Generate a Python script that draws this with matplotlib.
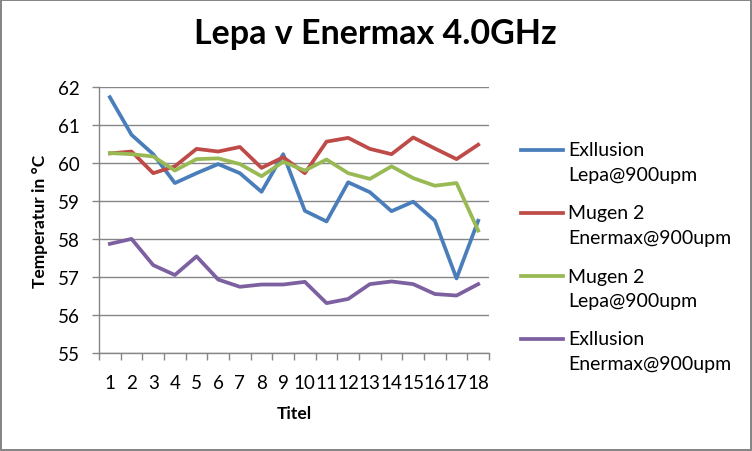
import matplotlib
matplotlib.use("Agg")
import matplotlib.pyplot as plt
from matplotlib.lines import Line2D
import numpy as np

plt.rcParams['font.family'] = ['Lato', 'DejaVu Sans']

# Werte
titel = list(range(1, 19))
exllusion_lepa = [61.74, 60.75, 60.24, 59.48, 59.74, 59.98, 59.74, 59.25, 60.24,
                  58.75, 58.47, 59.50, 59.24, 58.74, 58.99, 58.49, 56.97, 58.49]
mugen_enermax = [60.26, 60.31, 59.74, 59.92, 60.38, 60.31, 60.43, 59.88, 60.16,
                 59.74, 60.57, 60.67, 60.38, 60.24, 60.68, 60.39, 60.11, 60.49]
mugen_lepa = [60.27, 60.24, 60.18, 59.81, 60.11, 60.13, 59.98, 59.66, 60.04,
              59.81, 60.10, 59.74, 59.59, 59.92, 59.61, 59.41, 59.48, 58.23]
exllusion_enermax = [57.88, 58.01, 57.32, 57.06, 57.55, 56.94, 56.75, 56.81, 56.81,
                     56.88, 56.32, 56.43, 56.82, 56.89, 56.82, 56.56, 56.52, 56.82]

serien = [
    ("Exllusion\nLepa@900upm", exllusion_lepa, "#4A7EBB"),
    ("Mugen 2\nEnermax@900upm", mugen_enermax, "#BE4B48"),
    ("Mugen 2\nLepa@900upm", mugen_lepa, "#98B954"),
    ("Exllusion\nEnermax@900upm", exllusion_enermax, "#7D60A0"),
]

grau = "#868686"

fig = plt.figure(figsize=(7.52, 4.52), dpi=100)
fig.patch.set_edgecolor(grau)
fig.patch.set_linewidth(1.5)
ax = fig.add_axes([0.1317, 0.2162, 0.5186, 0.5884])

x = np.array(titel)
for label, werte, farbe in serien:
    ax.plot(x, werte, color=farbe, linewidth=2.7, solid_joinstyle='round')

ax.set_xlim(0.5, 18.5)
ax.set_ylim(55, 62)
ax.set_yticks(range(55, 63))
ax.grid(axis='y', color=grau, linewidth=1)
ax.set_axisbelow(True)

# Kategorie-Achse: Striche zwischen den Kategorien, Beschriftung in der Mitte
ax.set_xticks(np.arange(0.5, 19, 1))
ax.set_xticklabels([])
ax.set_xticks(x, minor=True)
ax.set_xticklabels([str(t) for t in titel], minor=True)
ax.tick_params(axis='x', which='major', length=5, width=1, color=grau, direction='out')
ax.tick_params(axis='x', which='minor', length=0, pad=15, labelsize=13.5)
ax.tick_params(axis='y', length=5, width=1, color=grau, direction='out', pad=9, labelsize=13.5)

for s in ['top', 'right']:
    ax.spines[s].set_visible(False)
for s in ['left', 'bottom']:
    ax.spines[s].set_color(grau)
    ax.spines[s].set_linewidth(1)

ax.set_xlabel("Titel", fontsize=12.5, fontweight='bold', labelpad=10)
ax.set_ylabel("Temperatur in °C", fontsize=12.5, fontweight='bold', labelpad=7)

fig.text(375 / 752, 1 - 34 / 452, "Lepa v Enermax 4.0GHz", fontsize=24.5,
         fontweight='bold', ha='center', va='center')

# Legende rechts, Linie an der ersten Textzeile
W, H = 752, 452
for i, (label, werte, farbe) in enumerate(serien):
    y0 = 151 + i * 63
    fig.add_artist(Line2D([521 / W, 563 / W], [1 - y0 / H, 1 - y0 / H],
                          transform=fig.transFigure, color=farbe, linewidth=2.7))
    for j, zeile in enumerate(label.split("\n")):
        fig.text(568 / W, 1 - (y0 + j * 25) / H, zeile, fontsize=14,
                 ha='left', va='center')

fig.savefig("out.png", dpi=100)
